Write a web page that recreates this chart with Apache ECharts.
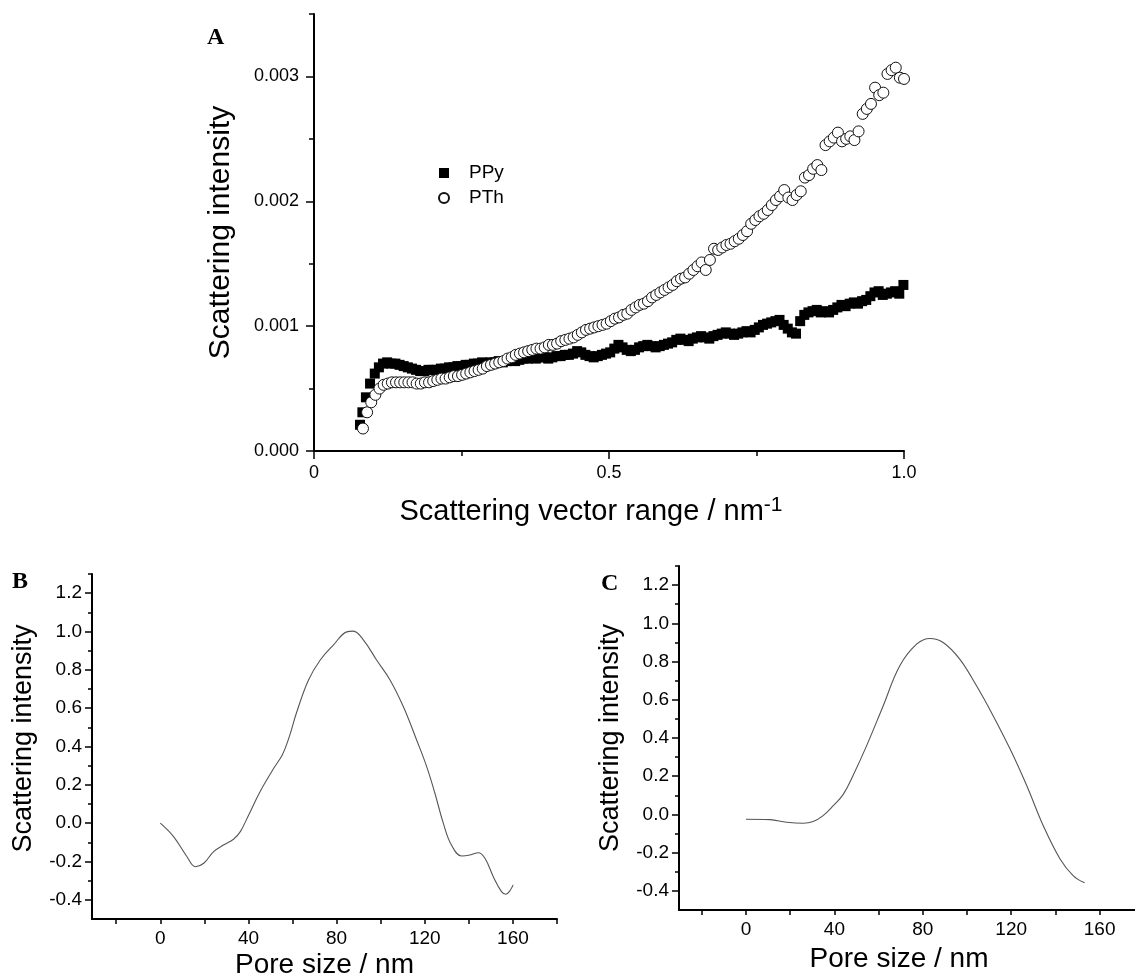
<!DOCTYPE html>
<html>
<head>
<meta charset="utf-8">
<script src="https://cdn.jsdelivr.net/npm/echarts@6/dist/echarts.min.js"></script>
<style>
html,body{margin:0;padding:0;background:#fff;}
#chart{width:1135px;height:980px;}
</style>
</head>
<body>
<div id="chart"></div>
<script>
// ---- Panel A: scattering intensity vs scattering vector ----
const ppyQ = [0.078,0.082,0.088,0.095,0.103,0.110,0.117,0.124,0.131,0.138,0.145,0.152,0.159,0.166,0.173,0.180,0.187,0.194,0.201,0.208,0.215,0.222,0.229,0.236,0.243,0.250,0.257,0.264,0.271,0.278,0.285,0.292,0.299,0.306,0.313,0.320,0.327,0.334,0.341,0.348,0.355,0.362,0.369,0.376,0.383,0.390,0.397,0.404,0.411,0.418,0.425,0.432,0.439,0.446,0.453,0.460,0.467,0.474,0.481,0.488,0.495,0.502,0.509,0.516,0.523,0.530,0.537,0.544,0.551,0.558,0.565,0.572,0.579,0.586,0.593,0.600,0.607,0.614,0.621,0.628,0.635,0.642,0.649,0.656,0.663,0.670,0.677,0.684,0.691,0.698,0.705,0.712,0.719,0.726,0.733,0.740,0.747,0.754,0.761,0.768,0.775,0.782,0.789,0.796,0.803,0.810,0.817,0.824,0.831,0.838,0.845,0.852,0.859,0.866,0.873,0.880,0.887,0.894,0.901,0.908,0.915,0.922,0.929,0.936,0.943,0.950,0.957,0.964,0.971,0.978,0.985,0.992,0.999];
const ppyI = [0.00021,0.00031,0.00043,0.00054,0.00062,0.00067,0.00070,0.00071,0.00070,0.00070,0.00069,0.00068,0.00067,0.00066,0.00065,0.00064,0.00064,0.00065,0.00065,0.00065,0.00066,0.00066,0.00067,0.00067,0.00068,0.00068,0.00069,0.00069,0.00070,0.00070,0.00071,0.00070,0.00071,0.00071,0.00072,0.00071,0.00072,0.00073,0.00072,0.00073,0.00074,0.00074,0.00075,0.00074,0.00075,0.00075,0.00074,0.00075,0.00076,0.00076,0.00077,0.00077,0.00078,0.00080,0.00079,0.00077,0.00076,0.00075,0.00076,0.00077,0.00078,0.00079,0.00082,0.00085,0.00083,0.00081,0.00080,0.00081,0.00083,0.00084,0.00085,0.00084,0.00083,0.00084,0.00085,0.00086,0.00087,0.00089,0.00090,0.00089,0.00088,0.00090,0.00091,0.00092,0.00091,0.00090,0.00092,0.00093,0.00094,0.00095,0.00094,0.00093,0.00094,0.00095,0.00096,0.00095,0.00097,0.00099,0.00101,0.00102,0.00103,0.00104,0.00105,0.00101,0.00098,0.00095,0.00094,0.00104,0.00109,0.00111,0.00112,0.00113,0.00111,0.00112,0.00111,0.00113,0.00115,0.00117,0.00116,0.00118,0.00119,0.00118,0.00120,0.00121,0.00124,0.00127,0.00128,0.00125,0.00126,0.00127,0.00128,0.00126,0.00133];
const pthQ = [0.083,0.090,0.097,0.104,0.111,0.118,0.125,0.132,0.139,0.146,0.153,0.160,0.167,0.174,0.181,0.188,0.195,0.202,0.209,0.216,0.223,0.230,0.237,0.244,0.251,0.258,0.265,0.272,0.279,0.286,0.293,0.300,0.307,0.314,0.321,0.328,0.335,0.342,0.349,0.356,0.363,0.370,0.377,0.384,0.391,0.398,0.405,0.412,0.419,0.426,0.433,0.440,0.447,0.454,0.461,0.468,0.475,0.482,0.489,0.496,0.503,0.510,0.517,0.524,0.531,0.538,0.545,0.552,0.559,0.566,0.573,0.580,0.587,0.594,0.601,0.608,0.615,0.622,0.629,0.636,0.643,0.650,0.657,0.664,0.671,0.678,0.685,0.692,0.699,0.706,0.713,0.720,0.727,0.734,0.741,0.748,0.755,0.762,0.769,0.776,0.783,0.790,0.797,0.804,0.811,0.818,0.825,0.832,0.839,0.846,0.853,0.860,0.867,0.874,0.881,0.888,0.895,0.902,0.909,0.916,0.923,0.930,0.937,0.944,0.951,0.958,0.965,0.972,0.979,0.986,0.993,1.000];
const pthI = [0.00018,0.00031,0.00039,0.00045,0.00050,0.00053,0.00054,0.00055,0.00055,0.00055,0.00055,0.00055,0.00055,0.00054,0.00054,0.00055,0.00055,0.00056,0.00057,0.00058,0.00058,0.00059,0.00060,0.00060,0.00061,0.00062,0.00063,0.00064,0.00065,0.00066,0.00068,0.00069,0.00070,0.00071,0.00072,0.00074,0.00075,0.00077,0.00078,0.00079,0.00080,0.00081,0.00082,0.00082,0.00083,0.00085,0.00085,0.00086,0.00088,0.00089,0.00090,0.00091,0.00093,0.00095,0.00097,0.00098,0.00099,0.00100,0.00101,0.00102,0.00104,0.00106,0.00107,0.00109,0.00110,0.00113,0.00115,0.00117,0.00118,0.00120,0.00123,0.00125,0.00127,0.00129,0.00131,0.00133,0.00136,0.00138,0.00139,0.00142,0.00145,0.00148,0.00151,0.00145,0.00153,0.00162,0.00161,0.00163,0.00165,0.00166,0.00168,0.00170,0.00173,0.00176,0.00182,0.00185,0.00188,0.00190,0.00193,0.00197,0.00201,0.00204,0.00209,0.00203,0.00201,0.00205,0.00208,0.00219,0.00221,0.00226,0.00229,0.00225,0.00245,0.00248,0.00251,0.00255,0.00248,0.00250,0.00252,0.00249,0.00256,0.00270,0.00274,0.00278,0.00291,0.00285,0.00287,0.00302,0.00305,0.00307,0.00299,0.00298];
const aXLabels = [0, 0.5, 1.0];
const aXMinor = [0.25, 0.75];
const aYLabels = [0, 0.001, 0.002, 0.003];
const aYMinor = [0.0005, 0.0015, 0.0025, 0.0035];

// ---- Panel B: pore size distribution (PPy) ----
const bSize = [0,6,12.1,15.9,19.7,24.2,28.7,33.2,36.3,40.1,45.3,51.4,55.5,58.5,61.9,67.2,72.5,78.5,84.6,87.6,92.2,98.2,104.3,110.3,116.3,120.9,124.6,128.4,132.1,136.7,140.5,144.3,147.3,151.1,154.8,156.8,158.6,160.1];
const bInt  = [0,-0.07,-0.175,-0.227,-0.209,-0.148,-0.114,-0.084,-0.044,0.043,0.165,0.285,0.36,0.45,0.58,0.746,0.85,0.929,0.998,1.002,0.955,0.85,0.746,0.607,0.434,0.294,0.156,0.0,-0.114,-0.171,-0.166,-0.154,-0.183,-0.279,-0.357,-0.371,-0.353,-0.322];

// ---- Panel C: pore size distribution (PTh) ----
const cSize = [0,10.8,18.4,25.9,30.4,34.9,39.5,44,48.5,54.6,62.1,69.6,77.2,83.2,89.2,96.7,104.3,111.8,119.5,127,134.5,142.1,148,153.2];
const cInt  = [-0.025,-0.027,-0.041,-0.046,-0.037,-0.006,0.046,0.105,0.205,0.36,0.569,0.778,0.891,0.921,0.9,0.813,0.673,0.517,0.342,0.151,-0.059,-0.233,-0.32,-0.358];

const poreXLabels = [0, 40, 80, 120, 160];
const poreXTicksB = [-20, 0, 20, 40, 60, 80, 100, 120, 140, 160, 180];
const poreXTicksC = [-20, 0, 20, 40, 60, 80, 100, 120, 140, 160];
const poreYLabels = [-0.4, -0.2, 0, 0.2, 0.4, 0.6, 0.8, 1.0, 1.2];
const poreYMinor  = [-0.3, -0.1, 0.1, 0.3, 0.5, 0.7, 0.9, 1.1, 1.3];

const FONT = 'Liberation Sans';
const BLACK = '#000';

function pairs(xs, ys) { return xs.map((x, i) => [x, ys[i]]); }

function baseAxis(extra) {
  return Object.assign({
    type: 'value',
    axisLine: { show: true, onZero: false, lineStyle: { color: BLACK, width: 2 } },
    axisTick: { show: true, inside: false, lineStyle: { color: BLACK, width: 1.5 } },
    splitLine: { show: false },
    axisLabel: { color: BLACK, fontFamily: FONT },
    nameTextStyle: { color: BLACK, fontFamily: FONT }
  }, extra);
}
function minorAxis(extra, ticks, len) {
  return Object.assign({
    type: 'value',
    axisLine: { show: false, onZero: false },
    axisTick: { show: true, inside: false, length: len, customValues: ticks, lineStyle: { color: BLACK, width: 1.5 } },
    axisLabel: { show: false },
    splitLine: { show: false }
  }, extra);
}

const chart = echarts.init(document.getElementById('chart'), null, { renderer: 'canvas' });

const option = {
  backgroundColor: '#fff',
  animation: false,
  grid: [
    { left: 314, top: 14, width: 590, height: 437 },
    { left: 92, top: 574, width: 465, height: 345 },
    { left: 679, top: 566, width: 456, height: 344 }
  ],
  legend: {
    data: ['PPy', 'PTh'],
    orient: 'vertical',
    left: 433, top: 158,
    itemWidth: 10, itemHeight: 10, itemGap: 5,
    textStyle: { fontFamily: FONT, fontSize: 19, color: BLACK, lineHeight: 20, padding: [0, 0, 0, 15] }
  },
  xAxis: [
    baseAxis({ gridIndex: 0, position: 'bottom', min: 0, max: 1,
      name: 'Scattering vector range / nm{sup|-1}', nameLocation: 'middle', nameGap: 44,
      nameTextStyle: { color: BLACK, fontFamily: FONT, fontSize: 29, padding: [0, 36, 0, 0],
        rich: { sup: { fontFamily: FONT, fontSize: 21, color: BLACK, verticalAlign: 'top', lineHeight: 34 } } },
      axisTick: { show: true, length: 8, customValues: aXLabels, lineStyle: { color: BLACK, width: 1.5 } },
      axisLabel: { color: BLACK, fontFamily: FONT, fontSize: 18, margin: 13, customValues: aXLabels,
        formatter: v => (v === 0 ? '0' : v.toFixed(1)) } }),
    minorAxis({ gridIndex: 0, position: 'bottom', min: 0, max: 1 }, aXMinor, 5),
    baseAxis({ gridIndex: 1, position: 'bottom', min: -31, max: 180,
      name: 'Pore size / nm', nameLocation: 'middle', nameGap: 32,
      nameTextStyle: { color: BLACK, fontFamily: FONT, fontSize: 28 },
      axisTick: { show: true, length: 5, customValues: poreXTicksB, lineStyle: { color: BLACK, width: 1.5 } },
      axisLabel: { color: BLACK, fontFamily: FONT, fontSize: 19, margin: 10, customValues: poreXLabels } }),
    baseAxis({ gridIndex: 2, position: 'bottom', min: -30.3, max: 176,
      name: 'Pore size / nm', nameLocation: 'middle', nameGap: 35,
      nameTextStyle: { color: BLACK, fontFamily: FONT, fontSize: 28, padding: [0, 16, 0, 0] },
      axisTick: { show: true, length: 5, customValues: poreXTicksC, lineStyle: { color: BLACK, width: 1.5 } },
      axisLabel: { color: BLACK, fontFamily: FONT, fontSize: 19, margin: 10, customValues: poreXLabels } })
  ],
  yAxis: [
    baseAxis({ gridIndex: 0, position: 'left', min: 0, max: 0.0035,
      name: 'Scattering intensity', nameLocation: 'middle', nameGap: 78,
      nameTextStyle: { color: BLACK, fontFamily: FONT, fontSize: 30 },
      axisTick: { show: true, length: 8, customValues: aYLabels, lineStyle: { color: BLACK, width: 1.5 } },
      axisLabel: { color: BLACK, fontFamily: FONT, fontSize: 18, margin: 15, customValues: aYLabels,
        formatter: v => v.toFixed(3) } }),
    minorAxis({ gridIndex: 0, position: 'left', min: 0, max: 0.0035 }, aYMinor, 5),
    baseAxis({ gridIndex: 1, position: 'left', min: -0.5, max: 1.3,
      name: 'Scattering intensity', nameLocation: 'middle', nameGap: 55,
      nameTextStyle: { color: BLACK, fontFamily: FONT, fontSize: 27, padding: [0, 0, 0, 16] },
      axisTick: { show: true, length: 7, customValues: poreYLabels, lineStyle: { color: BLACK, width: 1.5 } },
      axisLabel: { color: BLACK, fontFamily: FONT, fontSize: 19, margin: 10, customValues: poreYLabels,
        formatter: v => v.toFixed(1) } }),
    minorAxis({ gridIndex: 1, position: 'left', min: -0.5, max: 1.3 }, poreYMinor, 4),
    baseAxis({ gridIndex: 2, position: 'left', min: -0.5, max: 1.3,
      name: 'Scattering intensity', nameLocation: 'middle', nameGap: 55,
      nameTextStyle: { color: BLACK, fontFamily: FONT, fontSize: 27 },
      axisTick: { show: true, length: 7, customValues: poreYLabels, lineStyle: { color: BLACK, width: 1.5 } },
      axisLabel: { color: BLACK, fontFamily: FONT, fontSize: 19, margin: 10, customValues: poreYLabels,
        formatter: v => v.toFixed(1) } }),
    minorAxis({ gridIndex: 2, position: 'left', min: -0.5, max: 1.3 }, poreYMinor, 4)
  ],
  series: [
    { name: 'PPy', type: 'scatter', xAxisIndex: 0, yAxisIndex: 0, symbol: 'rect', symbolSize: 10,
      itemStyle: { color: '#000', opacity: 1 }, data: pairs(ppyQ, ppyI), z: 2 },
    { name: 'PTh', type: 'scatter', xAxisIndex: 0, yAxisIndex: 0, symbol: 'circle', symbolSize: 11,
      itemStyle: { color: '#fff', borderColor: '#111', borderWidth: 1, opacity: 1 }, data: pairs(pthQ, pthI), z: 3 },
    { name: 'B', type: 'line', xAxisIndex: 2, yAxisIndex: 2, smooth: 0.4, showSymbol: false, symbol: 'none',
      lineStyle: { color: '#555', width: 1.1 }, data: pairs(bSize, bInt) },
    { name: 'C', type: 'line', xAxisIndex: 3, yAxisIndex: 4, smooth: 0.4, showSymbol: false, symbol: 'none',
      lineStyle: { color: '#555', width: 1.1 }, data: pairs(cSize, cInt) }
  ],
  graphic: [
    { type: 'text', left: 207, top: 26, style: { text: 'A', font: 'bold 24px "Liberation Serif"', fill: BLACK } },
    { type: 'text', left: 12, top: 570, style: { text: 'B', font: 'bold 24px "Liberation Serif"', fill: BLACK } },
    { type: 'text', left: 601, top: 572, style: { text: 'C', font: 'bold 24px "Liberation Serif"', fill: BLACK } }
  ]
};
chart.setOption(option);
</script>
</body>
</html>
